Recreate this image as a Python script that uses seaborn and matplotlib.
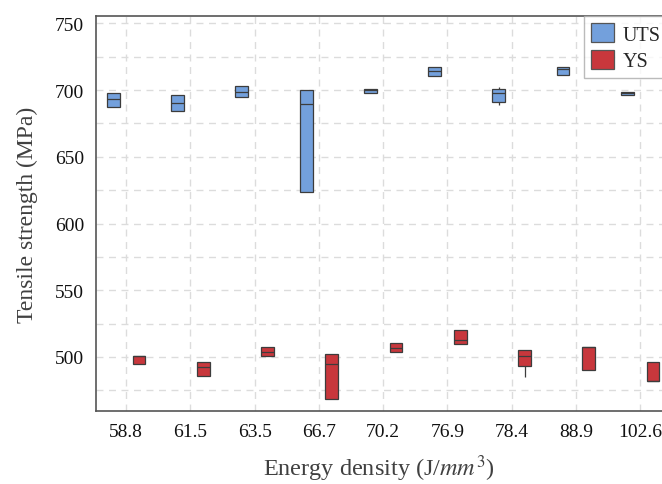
import pandas as pd
import matplotlib
matplotlib.use("Agg")
import matplotlib.pyplot as plt
import seaborn as sns

# energy density categories (J/mm^3)
energy = ["58.8", "61.5", "63.5", "66.7", "70.2", "76.9", "78.4", "88.9", "102.6"]

# raw samples (min, q1, median, q3, max)
uts = [
    [687, 687, 693, 698, 698],
    [684.5, 684.5, 690, 696.5, 696.5],
    [695, 695, 698.5, 703, 703],
    [623.5, 623.5, 689.5, 700, 700],
    [698, 698, 700, 701, 701],
    [710.5, 710.5, 714.5, 717.5, 717.5],
    [688.5, 691, 697.5, 701, 702.5],
    [711, 711, 716, 717.5, 717.5],
    [696.5, 696.5, 697.5, 698.5, 698.5],
]
ys = [
    [495, 495, 500.5, 500.5, 500.5],
    [485.5, 485.5, 492.5, 496.5, 496.5],
    [501, 501, 504, 507.5, 507.5],
    [468.5, 468.5, 495, 502, 502],
    [504, 504, 507, 510.5, 510.5],
    [510, 510, 513, 520.5, 520.5],
    [485, 493.5, 500.5, 505.5, 505.5],
    [490.5, 490.5, 507.5, 507.5, 507.5],
    [482, 482, 482, 496, 496],
]

rows = []
for e, vals in zip(energy, uts):
    rows += [(e, "UTS", v) for v in vals]
for e, vals in zip(energy, ys):
    rows += [(e, "YS", v) for v in vals]
df = pd.DataFrame(rows, columns=["Energy", "Type", "Strength"])

sns.set_style("white")
plt.rcParams["font.family"] = ["Liberation Serif", "DejaVu Serif"]
plt.rcParams["mathtext.fontset"] = "stix"

fig = plt.figure(figsize=(6.62, 4.85), dpi=100)
ax = fig.add_axes([0.145, 0.1505, 0.855, 0.8145])

sns.boxplot(data=df, x="Energy", y="Strength", hue="Type", order=energy,
            palette={"UTS": "#73a0dc", "YS": "#c8373c"}, saturation=1,
            width=0.8, gap=0.5, linecolor="#3c3c3c", linewidth=0.9,
            showfliers=False, showcaps=False, whis=1.5, ax=ax)

ax.set_xlim(-0.47, 8.34)
ax.set_ylim(459.5, 755.5)
ax.set_yticks([500, 550, 600, 650, 700, 750])
ax.set_yticks([475, 525, 575, 625, 675, 725], minor=True)

ax.grid(True, which="both", axis="y", color="#dcdcdc", linestyle=(0, (5, 4)), linewidth=1)
ax.grid(True, which="major", axis="x", color="#dcdcdc", linestyle=(0, (5, 4)), linewidth=1)
ax.set_axisbelow(True)

for s in ["left", "bottom", "top"]:
    ax.spines[s].set_color("#555555")
    ax.spines[s].set_linewidth(1.2)
ax.spines["right"].set_visible(False)

ax.tick_params(axis="both", which="major", direction="out", length=5, width=1,
               color="#555555", labelsize=14, labelcolor="#111111")
ax.tick_params(axis="y", which="minor", length=0)

ax.set_xlabel(r"Energy density (J/$mm^3$)", fontsize=17.5, color="#404040", labelpad=9)
ax.set_ylabel("Tensile strength (MPa)", fontsize=17, color="#404040", labelpad=12)

leg = ax.legend(loc="upper right", bbox_to_anchor=(1.01, 1.0), fontsize=14.5,
                frameon=True, fancybox=False, edgecolor="#aaaaaa",
                handlelength=1.1, handleheight=1.1, borderpad=0.35,
                labelspacing=0.25, handletextpad=0.45, borderaxespad=0)
leg.get_frame().set_linewidth(1)
for h in leg.legend_handles:
    h.set_edgecolor("#555555")

fig.savefig("out.png", dpi=100)
